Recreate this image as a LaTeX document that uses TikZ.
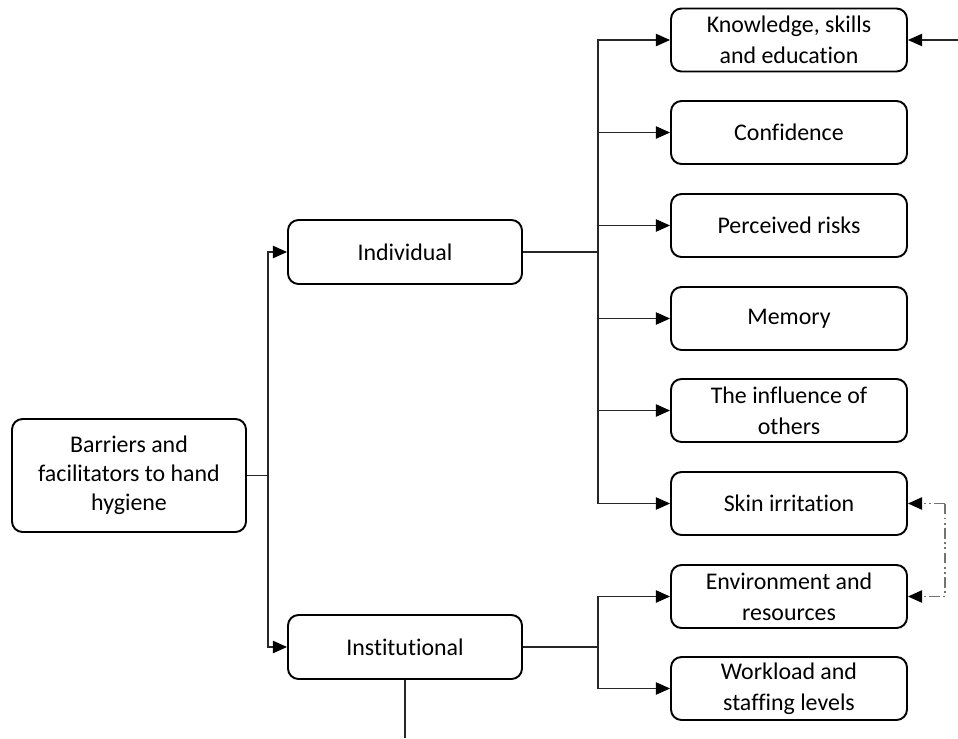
\documentclass[tikz,border=0pt]{standalone}
\usepackage{fontspec}
\setmainfont[Ligatures=NoCommon]{Carlito}
\usetikzlibrary{arrows.meta}
\begin{document}
\begin{tikzpicture}[x=0.02cm,y=-0.02cm,
  box/.style={draw=black,line width=1.1pt,rounded corners=6pt,align=center,
    inner sep=0pt,font=\fontsize{13.6}{17.4}\selectfont},
  conn/.style={draw=black!85,line width=0.6pt},
  arr/.style={conn,-{Triangle[length=8pt,width=7pt,color=black]}},
  dd/.style={draw=black!55,line width=0.8pt,dash pattern=on 6pt off 2pt on 1pt off 2pt on 1pt off 2pt,-{Triangle[length=8pt,width=7pt,color=black]}}]
\useasboundingbox (0,0) rectangle (958,738);
% boxes
\node[box,minimum width=234*0.02cm,minimum height=113*0.02cm,font=\fontsize{13.6}{16.4}\selectfont] (root) at (129,475.5) {Barriers and\\facilitators to hand\\hygiene};
\node[box,minimum width=234*0.02cm,minimum height=64*0.02cm] (ind) at (405,252) {Individual};
\node[box,minimum width=234*0.02cm,minimum height=64*0.02cm] (ins) at (405,647) {Institutional};
\foreach \n/\y/\t in {k/40/{Knowledge, skills\\and education},c/132.5/Confidence,p/225.5/Perceived risks,m/318.5/Memory,o/410.5/{The influence of\\others},s/503.5/Skin irritation,e/596.5/{Environment and\\resources},w/688.5/{Workload and\\staffing levels}}
  \node[box,minimum width=236*0.02cm,minimum height=63*0.02cm] (\n) at (789,\y) {\t};
% coordinates
\coordinate (t1) at (268,475.5);
\coordinate (t1a) at (268,252);
\coordinate (t1b) at (268,647);
\coordinate (b1) at (598,252);
\coordinate (b2) at (598,647);
\coordinate (edge) at (958,40);
\coordinate (bot) at (405,738);
\coordinate (d1) at (945,503.5);
\coordinate (d2) at (945,596.5);
% connectors
\draw[conn] (root.east) -- (t1);
\draw[arr] (t1) -- (t1a) -- (ind.west);
\draw[arr] (t1) -- (t1b) -- (ins.west);
\draw[conn] (ind.east) -- (b1);
\foreach \n in {k,c,p,m,o,s} \draw[arr] (b1) |- (\n.west);
\draw[conn] (ins.east) -- (b2);
\foreach \n in {e,w} \draw[arr] (b2) |- (\n.west);
\draw[arr] (edge) -- (k.east);
\draw[conn] (ins.south) -- (bot);
\draw[dd] (d1) -- (s.east);
\draw[dd] (d1) -- (d2) -- (e.east);
\end{tikzpicture}
\end{document}
